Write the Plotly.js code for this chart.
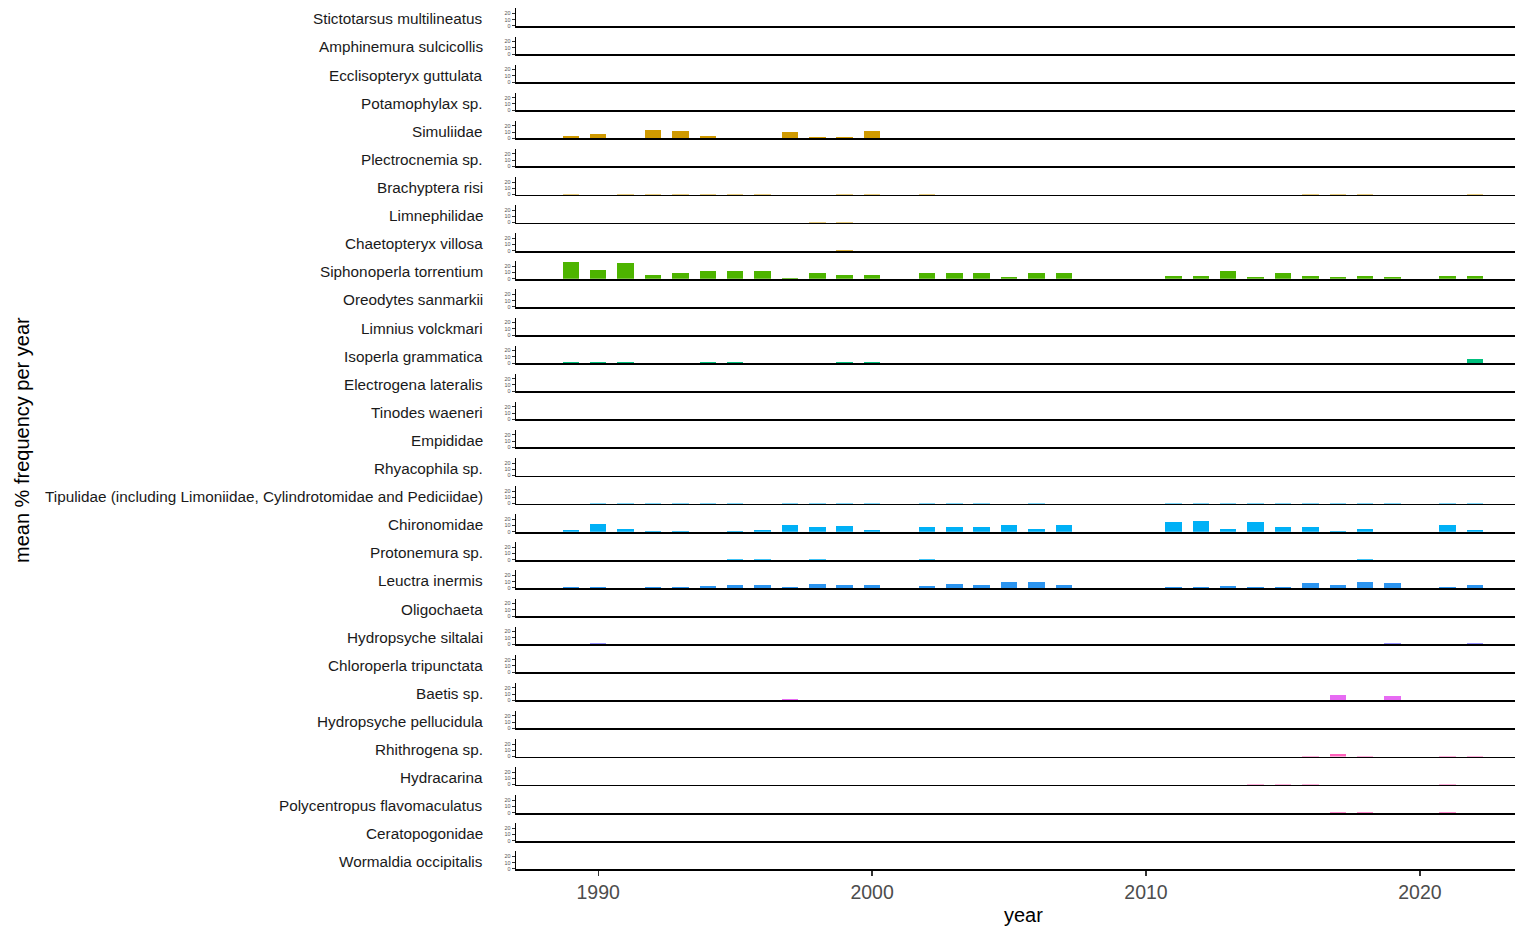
<!DOCTYPE html>
<html><head><meta charset="utf-8">
<script src="https://cdn.plot.ly/plotly-3.0.1.min.js"></script>
<style>html,body{margin:0;padding:0;background:#fff}</style>
</head><body><div id="chart" style="width:1515px;height:928px"></div>
<script>
// sampled years
const years = [1989,1990,1991,1992,1993,1994,1995,1996,1997,1998,1999,2000,
               2002,2003,2004,2005,2006,2007,
               2011,2012,2013,2014,2015,2016,2017,2018,2019,
               2021,2022];

const taxa = [
  "Stictotarsus multilineatus","Amphinemura sulcicollis","Ecclisopteryx guttulata",
  "Potamophylax sp.","Simuliidae","Plectrocnemia sp.","Brachyptera risi","Limnephilidae",
  "Chaetopteryx villosa","Siphonoperla torrentium","Oreodytes sanmarkii","Limnius volckmari",
  "Isoperla grammatica","Electrogena lateralis","Tinodes waeneri","Empididae","Rhyacophila sp.",
  "Tipulidae (including Limoniidae, Cylindrotomidae and Pediciidae)","Chironomidae",
  "Protonemura sp.","Leuctra inermis","Oligochaeta","Hydropsyche siltalai",
  "Chloroperla tripunctata","Baetis sp.","Hydropsyche pellucidula","Rhithrogena sp.",
  "Hydracarina","Polycentropus flavomaculatus","Ceratopogonidae","Wormaldia occipitalis"
];

// mean % frequency per year, one array per taxon, aligned with years
const stictotarsus   = [0,0,0,0,0,0,0,.3,0,0,0,.3, 0,0,0,0,0,0, 0,0,0,0,0,0,0,0,0, 0,0];
const amphinemura    = [.3,.3,0,.3,.3,0,.3,.3,0,.3,0,.3, .3,0,0,0,0,0, 0,0,0,0,0,.3,.3,0,0, 0,0];
const ecclisopteryx  = [0,0,0,.3,0,0,.3,.3,0,.3,0,0, .3,0,0,0,0,0, 0,0,0,0,0,.3,0,0,0, 0,0];
const potamophylax   = [0,0,0,0,0,0,0,.4,.4,.4,.4,.4, 0,0,0,.4,0,.4, 0,0,0,0,0,0,0,0,0, 0,0];
const simuliidae     = [4.3,6.8,1.2,14,12,4.3,1,1,9.5,2.7,2.7,11, .8,1.2,1.2,.6,.6,1.2, .6,.6,1.2,1.2,1.2,.6,1.2,1.2,.6, .6,.6];
const plectrocnemia  = [0,.4,.4,0,0,.4,0,0,0,0,.4,0, .4,0,.4,.4,.4,0, 0,0,.4,0,0,0,.4,0,0, 0,0];
const brachyptera    = [.4,0,.4,.4,.4,.4,1.2,.4,0,0,.4,.4, .4,0,0,0,0,0, 0,0,0,0,0,.4,.4,.4,0, 0,.4];
const limnephilidae  = [0,0,0,0,0,0,0,0,0,.5,.5,0, 0,0,0,0,0,0, 0,0,0,0,0,0,0,0,0, 0,0];
const chaetopteryx   = [0,0,0,0,0,0,0,0,0,0,.4,0, 0,0,0,0,0,0, 0,0,0,0,0,0,0,0,0, 0,0];
const siphonoperla   = [27,14,24.6,5.7,8.6,12.6,12.6,12.6,1.2,8.6,5.7,5.7, 9.7,9.7,8.6,2.9,9.7,8.6, 4.8,3.7,11.7,2.1,10,4.8,2.1,4.8,2.1, 4.8,4.8];
const oreodytes      = [0,0,.4,0,0,0,0,0,0,0,0,0, 0,0,0,0,0,0, 0,0,0,0,0,0,0,0,0, 0,0];
const limnius        = [0,0,0,0,0,.4,0,0,0,0,0,0, 0,0,0,0,0,0, 0,0,0,0,0,0,0,0,0, 0,0];
const isoperla       = [1,1,2,0,0,2,2,0,0,0,1,1, .8,0,0,0,0,0, 0,0,0,0,0,.6,0,.6,.6, 0,7];
const electrogena    = [0,0,.4,0,0,0,0,0,0,0,0,0, 0,0,0,0,0,0, 0,0,0,0,0,0,0,0,0, .4,0];
const tinodes        = [0,0,0,0,0,0,0,0,0,0,0,0, 0,0,0,.5,0,0, 0,0,0,0,0,0,0,0,0, 0,0];
const empididae      = [0,0,0,0,0,0,0,0,0,0,0,0, 0,0,.5,0,0,0, 0,0,.5,0,0,0,0,0,0, 0,0];
const rhyacophila    = [0,0,0,0,0,0,0,0,0,0,0,0, 0,0,0,0,0,0, 0,0,0,0,0,0,0,0,0, 0,0];
const tipulidae      = [0,.5,.5,.5,.5,.5,.5,0,.5,.5,.5,.5, .5,.5,.5,0,.5,0, .5,.5,.5,.5,.5,.5,.5,.5,.5, .5,.5];
const chironomidae   = [2.9,12.6,4.6,1,1,0,1,2.9,10.9,7.4,8.6,2.9, 7.4,7.4,7.4,10.3,4.6,10.3, 15,16.5,4.3,15.5,8,7,1,4.3,0, 10.7,2.7];
const protonemura    = [0,0,0,0,0,0,.5,.5,0,.5,0,0, .5,0,0,0,0,0, 0,0,0,0,0,0,0,.5,0, 0,0];
const leuctra        = [1,1,0,1,1,2.9,4.6,4.6,1.5,6.3,4.6,4.6, 2.9,5.7,4.6,9.7,9.7,4.6, 1,1,3.7,1,2.1,7.5,4.8,9,7.5, 2.1,5.3];
const oligochaeta    = [0,.4,0,0,.4,0,0,0,.4,.4,.4,0, .4,.4,.4,.4,.4,.4, .4,.4,.4,.4,.4,.4,.4,.4,.4, .4,.4];
const hydSiltalai    = [0,1,.4,.4,.4,0,0,.4,0,.4,0,.4, .4,0,.4,0,0,.4, 0,0,0,.4,0,.4,.4,0,1, .4,1];
const chloroperla    = [0,0,0,0,0,0,0,.4,0,0,0,0, 0,0,0,0,0,0, 0,0,0,0,0,.4,0,0,0, .4,.4];
const baetis         = [0,.4,0,.4,.4,0,.4,0,1.5,.4,.4,.4, .4,0,.4,0,.4,.4, .4,.4,0,.4,0,0,8.5,.4,7.5, .4,.4];
const hydPellucidula = [0,0,0,0,0,0,0,.4,0,0,0,0, .4,0,.4,0,.4,0, 0,0,0,0,0,.4,0,0,.4, 0,.4];
const rhithrogena    = [0,0,0,0,0,0,0,0,0,0,0,0, 0,0,0,0,0,0, 0,0,0,0,0,.4,4.8,.4,0, .5,.5];
const hydracarina    = [0,0,0,0,0,0,0,0,0,0,0,0, 0,0,0,0,0,0, 0,0,0,.4,.4,.4,0,0,0, .5,0];
const polycentropus  = [0,0,0,0,0,0,0,0,0,0,0,0, 0,0,0,0,0,0, 0,0,0,0,0,0,.4,.4,0, .4,0];
const ceratopogon    = [0,0,0,.4,0,0,0,0,.4,0,0,0, 0,0,0,.4,.4,.4, 0,.4,0,0,0,0,0,0,0, .4,.4];
const wormaldia      = [0,0,0,0,0,0,0,0,0,0,0,0, 0,0,0,0,0,0, 0,0,0,0,0,0,0,0,.4, 0,0];

const taxonValues = [stictotarsus,amphinemura,ecclisopteryx,potamophylax,simuliidae,plectrocnemia,
  brachyptera,limnephilidae,chaetopteryx,siphonoperla,oreodytes,limnius,isoperla,electrogena,
  tinodes,empididae,rhyacophila,tipulidae,chironomidae,protonemura,leuctra,oligochaeta,hydSiltalai,
  chloroperla,baetis,hydPellucidula,rhithrogena,hydracarina,polycentropus,ceratopogon,wormaldia];

const taxonColors = [
  "#F8766D","#F8766D","#F8766D",
  "#D09A00","#D09A00","#D09A00","#D09A00","#D09A00","#D09A00",
  "#4DB400","#4DB400","#4DB400",
  "#00BF7D","#00BF7D","#00BF7D","#00BF7D","#00BF7D",
  "#00B0F6","#00B0F6","#00B0F6","#2C95F0","#2C95F0",
  "#9590FF","#9590FF",
  "#E76BF3","#E76BF3",
  "#FF62BC","#FF62BC","#FF62BC","#FF62BC","#FF62BC"
];

const xTicks = [1990,2000,2010,2020];
const yTicks = [0,10,20];

// ---------- layout geometry ----------
const W = 1515, H = 928;
const plotL = 516, plotR = 1515, plotT = 8, plotB = 869;
const ph = plotB - plotT, pw = plotR - plotL;
const row0Base = 25.9, rowStep = 28.1, panelH = 17.5;
const FONT = "Liberation Sans, Arial, sans-serif";

const data = [];
const layout = {
  width: W, height: H,
  margin: {l: plotL, r: W - plotR, t: plotT, b: H - plotB, pad: 0},
  paper_bgcolor: "#fff", plot_bgcolor: "#fff",
  showlegend: false, bargap: 0,
  font: {family: FONT},
  annotations: []
};

const n = taxa.length;
for (let i = 0; i < n; i++) {
  const k = i + 1;
  const base = row0Base + rowStep * i;
  const top = base - panelH;
  const d0 = Math.max(0, (plotB - base) / ph);
  const d1 = (plotB - top) / ph;
  const xa = "xaxis" + (k === 1 ? "" : k), ya = "yaxis" + (k === 1 ? "" : k);
  const last = (i === n - 1);
  data.push({
    type: "bar", x: years, y: taxonValues[i], width: 0.6,
    marker: {color: taxonColors[i], line: {width: 0}},
    xaxis: "x" + (k === 1 ? "" : k), yaxis: "y" + (k === 1 ? "" : k),
    hoverinfo: "x+y", name: taxa[i]
  });
  layout[ya] = {
    domain: [d0, d1], range: [0, 28], anchor: "x" + (k === 1 ? "" : k),
    tickvals: yTicks, ticktext: yTicks.map(String), ticks: "outside", ticklen: 3, tickwidth: 1,
    tickcolor: "#333", tickfont: {size: 5.4, color: "#555", family: FONT},
    showline: true, linecolor: "#000", linewidth: 1.3,
    showgrid: false, zeroline: false, fixedrange: true
  };
  layout[xa] = {
    domain: [0, 1], range: [1987.0, 2023.47], anchor: "y" + (k === 1 ? "" : k),
    showline: true, linecolor: "#000", linewidth: 1.8,
    showgrid: false, zeroline: false, fixedrange: true,
    tickvals: xTicks, ticktext: xTicks.map(String),
    ticks: last ? "outside" : "", ticklen: 5, tickwidth: 1.2, tickcolor: "#333",
    showticklabels: last,
    tickfont: {size: 19.5, color: "#4d4d4d", family: FONT}
  };
  if (k !== 1) layout[xa].matches = "x";
  layout.annotations.push({
    text: taxa[i], xref: "paper", yref: "paper",
    x: (485 - plotL) / pw, y: (plotB - (base - 7)) / ph,
    xanchor: "right", yanchor: "middle", showarrow: false,
    font: {size: 15.3, color: "#1a1a1a", family: FONT}
  });
}
// axis titles
layout.annotations.push({
  text: "year", xref: "paper", yref: "paper",
  x: (1023 - plotL) / pw, y: (plotB - 915) / ph,
  xanchor: "center", yanchor: "middle", showarrow: false,
  font: {size: 20, color: "#000", family: FONT}
});
layout.annotations.push({
  text: "mean % frequency per year", xref: "paper", yref: "paper",
  x: (22 - plotL) / pw, y: (plotB - 440) / ph, textangle: -90,
  xanchor: "center", yanchor: "middle", showarrow: false,
  font: {size: 20, color: "#000", family: FONT}
});

Plotly.newPlot("chart", data, layout, {displayModeBar: false, staticPlot: true});
</script>
</body></html>
